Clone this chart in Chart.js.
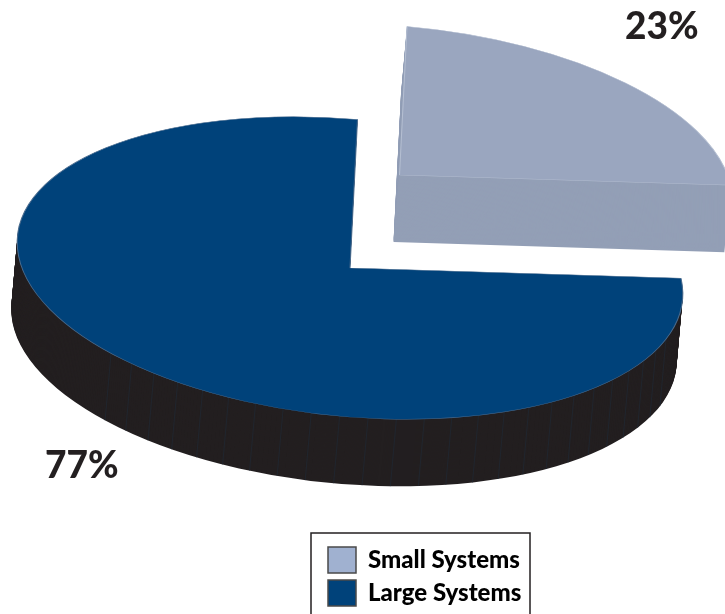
<!DOCTYPE html>
<html>
<head>
<meta charset="utf-8">
<title>Systems share</title>
<script src="https://cdn.jsdelivr.net/npm/chart.js@4"></script>
<style>
  html, body { margin: 0; padding: 0; background: #fff; overflow: hidden; }
  canvas { display: block; }
</style>
</head>
<body>
<canvas id="pie" width="725" height="614"></canvas>
<script>
const categories = ['Small Systems', 'Large Systems'];
const shares = [23, 77];
const topColors = ['#9aa6bf', '#00427a'];
const sideColors = ['#939fb6', '#231f20'];
const swatchColors = ['#a0b1d0', '#00427a'];
const rimColors = ['#b4bed1', '#4a6c8f'];

// tilted pie: where the centre of each slice lands, and what the unit x / y axes map to
const centers = [{ x: 399.5, y: 175 }, { x: 350, y: 268 }];
const axisX = { x: 332.7, y: 29 };
const axisY = { x: -7.5, y: 148.5 };
const depth = { x: -6, y: 67 };
const labelSpots = [{ x: 625, y: 39 }, { x: 45, y: 478 }];

function placeArc(ctx, arc, center, dx, dy) {
  const r = arc.outerRadius;
  ctx.translate(center.x + dx, center.y + dy);
  ctx.transform(axisX.x / r, axisX.y / r, axisY.x / r, axisY.y / r, 0, 0);
  ctx.translate(-arc.x, -arc.y);
}

const tiltedPie = {
  id: 'tiltedPie',
  beforeDatasetDraw(chart, args) {
    const ctx = chart.ctx;
    const arcs = chart.getDatasetMeta(args.index).data;

    arcs.forEach((arc, i) => {
      const own = arc.options;
      // side wall: the same arc stamped downwards
      arc.options = { ...own, backgroundColor: sideColors[i], borderWidth: 0 };
      for (let step = 67; step > 0; step--) {
        ctx.save();
        placeArc(ctx, arc, centers[i], depth.x * step / 67, depth.y * step / 67);
        arc.draw(ctx);
        ctx.restore();
      }
      arc.options = own;
    });

    // faint facet lines on the dark wall
    ctx.save();
    ctx.strokeStyle = '#1f2a38';
    ctx.lineWidth = 0.6;
    for (let deg = 17; deg <= 135; deg += 4.9) {
      const a = deg * Math.PI / 180;
      const px = centers[1].x + axisX.x * Math.cos(a) + axisY.x * Math.sin(a);
      const py = centers[1].y + axisX.y * Math.cos(a) + axisY.y * Math.sin(a);
      ctx.beginPath();
      ctx.moveTo(px, py);
      ctx.lineTo(px + depth.x, py + depth.y);
      ctx.stroke();
    }
    ctx.restore();

    arcs.forEach((arc, i) => {
      ctx.save();
      placeArc(ctx, arc, centers[i], 0, 0);
      arc.draw(ctx);
      ctx.restore();
    });
    return false;
  },
  afterDraw(chart) {
    const ctx = chart.ctx;

    ctx.save();
    ctx.strokeStyle = '#231f20';
    ctx.lineWidth = 1.5;
    ctx.strokeRect(311, 533, 219, 100);

    ctx.fillStyle = '#231f20';
    ctx.font = '900 37px Lato';
    ctx.textBaseline = 'alphabetic';
    shares.forEach((v, i) => ctx.fillText(v + '%', labelSpots[i].x, labelSpots[i].y));
    ctx.restore();
  }
};

new Chart(document.getElementById('pie'), {
  type: 'pie',
  data: {
    labels: categories,
    datasets: [{
      data: shares,
      backgroundColor: topColors,
      borderColor: rimColors,
      borderWidth: 0.35
    }]
  },
  options: {
    responsive: false,
    animation: false,
    layout: { padding: { left: 321, right: 187, bottom: -2, top: 0 } },
    plugins: {
      tooltip: { enabled: false },
      legend: {
        position: 'bottom',
        align: 'start',
        labels: {
          boxWidth: 28,
          boxHeight: 26,
          padding: 7,
          color: '#231f20',
          font: { family: 'Lato', size: 24, weight: '900' },
          generateLabels() {
            return categories.map((name, i) => ({
              text: name,
              fillStyle: swatchColors[i],
              strokeStyle: '#4a4a4a',
              lineWidth: 1.5,
              index: i
            }));
          }
        }
      }
    }
  },
  plugins: [tiltedPie]
});
</script>
</body>
</html>
